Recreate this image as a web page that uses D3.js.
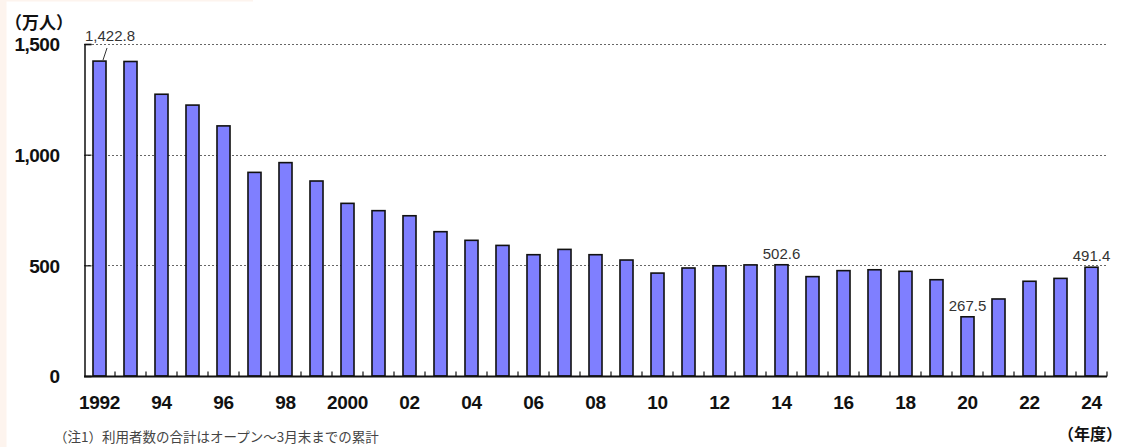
<!DOCTYPE html>
<html><head><meta charset="utf-8">
<script src="https://cdn.jsdelivr.net/npm/d3@7"></script>
<style>
body{margin:0;background:#fff;}
svg{display:block;}
</style></head>
<body>
<svg id="c" width="1124" height="447"></svg>
<script>
const years = d3.range(1992, 2025);
const values = [1422.8,1421,1273,1224,1130,920,964,881,780,747,724,652,613,590,548,572,548,524,465,488,498,502,502.6,449,476,480,473,435,267.5,348,428,441,491.4];
const xTickLabels = {1992:"1992",1994:"94",1996:"96",1998:"98",2000:"2000",2002:"02",2004:"04",2006:"06",2008:"08",2010:"10",2012:"12",2014:"14",2016:"16",2018:"18",2020:"20",2022:"22",2024:"24"};
const yTicks = [0,500,1000,1500];
const annotated = [1992,2014,2020,2024];

const svg = d3.select("#c");
const latin = "'Liberation Sans', Arial, sans-serif";
const cjk = "'Noto Sans CJK JP', sans-serif";

svg.append("rect").attr("x",0).attr("y",0).attr("width",6.5).attr("height",447).attr("fill","#fdf4ee");
svg.append("rect").attr("x",0).attr("y",0).attr("width",253).attr("height",1.5).attr("fill","#fdf4ee");

const x = d3.scaleBand().domain(years).range([84,1107]).paddingInner(0.58).paddingOuter(0.29);
const y = d3.scaleLinear().domain([0,1500]).range([376,44]);

// gridlines
svg.append("g").selectAll("line").data(yTicks.filter(d=>d>0)).join("line")
  .attr("x1",84).attr("x2",1107).attr("y1",d=>Math.round(y(d))+0.5).attr("y2",d=>Math.round(y(d))+0.5)
  .attr("stroke","#666").attr("stroke-width",1).attr("stroke-dasharray","2,2");

// bars
svg.append("g").selectAll("rect").data(years).join("rect")
  .attr("x",d=>x(d)).attr("width",x.bandwidth())
  .attr("y",(d,i)=>y(values[i])).attr("height",(d,i)=>y(0)-y(values[i]))
  .attr("fill","#7f7fff").attr("stroke","#111").attr("stroke-width",1.6);

// y axis
const yAxis = d3.axisLeft(y).tickValues(yTicks).tickSize(-7).tickPadding(25).tickFormat(d3.format(","));
const gy = svg.append("g").attr("transform","translate(84.5,0)").call(yAxis);
gy.select(".domain").attr("stroke","#111").attr("stroke-width",1.5);
gy.selectAll(".tick line").attr("stroke","#111").attr("stroke-width",1.2);
gy.selectAll("text").attr("font-family",latin).attr("font-weight","bold").attr("font-size",19).attr("fill","#111").attr("dy","0.36em").attr("letter-spacing","-0.5");

// x axis
const boundaries = d3.range(1, years.length).map(i => 84 + i*x.step());
const gx = svg.append("g").attr("transform","translate(0,376.5)");
gx.append("line").attr("x1",84).attr("x2",1107).attr("stroke","#111").attr("stroke-width",1.8);
gx.selectAll("line.tk").data(boundaries.concat([1107])).join("line").attr("class","tk")
  .attr("x1",d=>d).attr("x2",d=>d).attr("y1",0).attr("y2",-5).attr("stroke","#111").attr("stroke-width",1.2);
gx.selectAll("text").data(years.filter(d=>xTickLabels[d])).join("text")
  .attr("x",d=>x(d)+x.bandwidth()/2).attr("y",32.5)
  .attr("text-anchor","middle").attr("font-family",latin).attr("font-weight","bold").attr("font-size",19).attr("fill","#111")
  .attr("letter-spacing","-0.3")
  .text(d=>xTickLabels[d]);

// annotations
const ann = svg.append("g");
annotated.forEach(yr=>{
  const i = years.indexOf(yr);
  const cx = x(yr)+x.bandwidth()/2;
  if (yr===1992){
    ann.append("text").attr("x",85).attr("y",41).attr("font-family",latin).attr("font-size",15).attr("fill","#333").text(d3.format(",.1f")(values[i]));
    ann.append("line").attr("x1",107).attr("y1",48).attr("x2",103).attr("y2",y(values[i])-1).attr("stroke","#333").attr("stroke-width",1);
  } else {
    ann.append("text").attr("x",cx).attr("y",y(values[i])-6).attr("text-anchor","middle").attr("font-family",latin).attr("font-size",15).attr("fill","#333").text(d3.format(",.1f")(values[i]));
  }
});

// unit labels
svg.append("text").attr("x",5).attr("y",29).attr("font-family",cjk).attr("font-weight","bold").attr("font-size",17).attr("fill","#111").text("（万人）");
svg.append("text").attr("x",1122).attr("y",440).attr("text-anchor","end").attr("font-family",cjk).attr("font-weight","bold").attr("font-size",16).attr("fill","#111").text("（年度）");
svg.append("text").attr("x",54).attr("y",442).attr("font-family",cjk).attr("font-size",13.5).attr("fill","#444").text("（注1）利用者数の合計はオープン～3月末までの累計");
</script>
</body></html>
